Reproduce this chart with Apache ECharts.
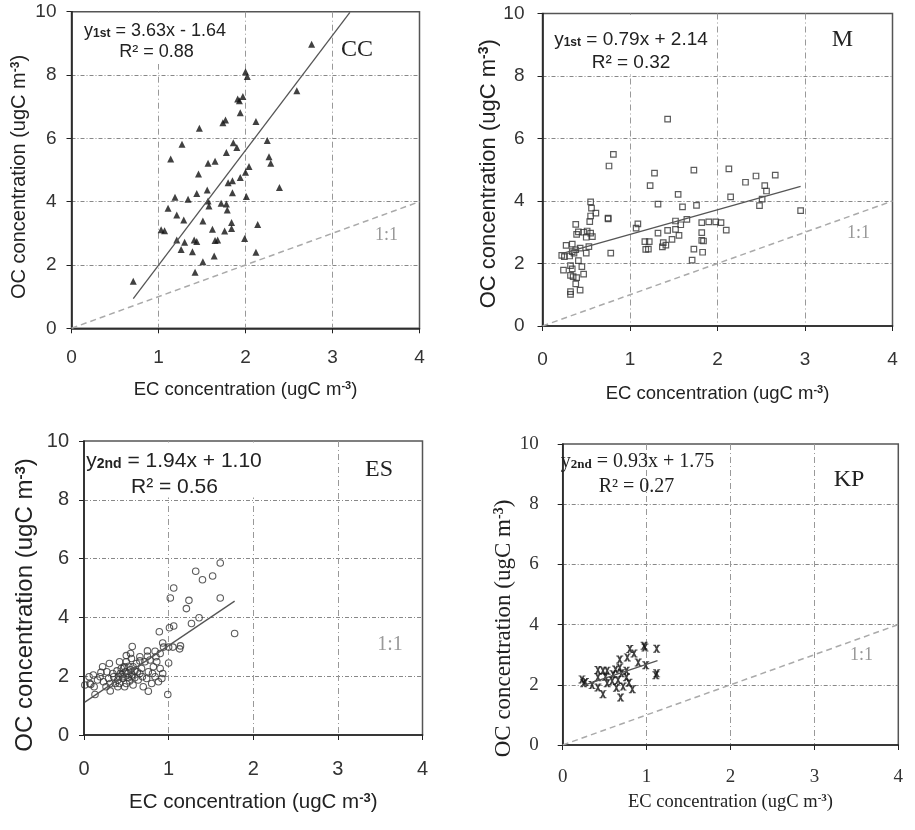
<!DOCTYPE html>
<html><head><meta charset="utf-8">
<script src="https://cdn.jsdelivr.net/npm/echarts@6/dist/echarts.min.js"></script>
<style>html,body{margin:0;padding:0;background:#fff}#c{width:915px;height:830px}</style>
</head><body><div id="c"></div>
<script>
// ---------- data ----------
const xTicks = [0, 1, 2, 3, 4];
const yTicks = [0, 2, 4, 6, 8, 10];
const siteNames = ['CC', 'M', 'ES', 'KP'];
const fitLabels = ['1st', '1st', '2nd', '2nd'];

// CC
const ccEC = [2.76,2.00,2.02,2.59,1.91,1.93,1.97,1.94,1.74,1.77,2.12,1.47,1.27,1.86,1.90,2.25,1.78,1.14,1.57,1.65,2.27,2.29,2.04,2.00,1.46,1.94,1.85,1.80,2.39,1.44,1.56,1.85,1.19,1.34,1.57,2.01,1.58,1.72,1.78,1.11,1.79,1.21,1.29,1.51,1.84,2.14,1.03,1.07,1.62,1.84,1.76,1.21,1.30,1.41,1.44,1.65,1.68,1.99,1.26,1.39,2.12,1.64,1.51,1.42,0.71];
const ccOC = [8.97,8.10,7.95,7.50,7.24,7.19,7.32,6.81,6.49,6.58,6.53,6.32,5.81,5.86,5.71,5.93,5.55,5.35,5.21,5.28,5.42,5.21,5.11,4.93,4.87,4.76,4.66,4.60,4.45,4.26,4.37,4.28,4.14,4.08,4.02,4.16,3.86,3.95,3.93,3.79,3.74,3.58,3.42,3.39,3.34,3.28,3.11,3.08,3.13,3.15,3.07,2.79,2.72,2.79,2.74,2.77,2.79,2.84,2.49,2.42,2.40,2.28,2.10,1.77,1.49];
const ccFit = [3.63, -1.64, 0.88];
const ccFitX = [0.71, 3.2];

// M
const mEC = [1.43,0.81,0.76,1.28,1.73,2.13,2.66,2.44,2.32,1.23,2.54,2.56,1.55,2.15,2.51,2.48,1.32,1.76,1.60,0.55,0.56,0.61,0.55,0.75,0.75,2.95,1.65,0.54,0.38,1.09,1.07,1.52,1.58,1.82,1.90,1.98,2.04,2.10,1.52,1.43,1.32,1.82,0.41,0.47,0.51,0.55,0.57,0.50,0.39,1.56,1.82,1.84,1.48,1.17,1.22,1.38,1.41,1.37,1.18,1.21,1.73,1.83,1.71,0.78,0.27,0.34,0.53,0.43,0.50,0.38,0.34,0.22,0.25,0.31,0.36,0.41,0.32,0.24,0.34,0.45,0.32,0.35,0.39,0.47,0.38,0.43,0.32,0.32];
const mOC = [6.62,5.49,5.12,4.89,4.99,5.03,4.83,4.80,4.60,4.49,4.49,4.32,4.21,4.13,4.06,3.85,3.90,3.86,3.81,3.97,3.77,3.61,3.52,3.45,3.43,3.69,3.41,3.34,3.25,3.27,3.13,3.36,3.24,3.31,3.33,3.33,3.31,3.07,3.09,3.06,2.97,2.99,3.01,3.00,3.04,2.97,2.86,2.84,2.93,2.90,2.74,2.72,2.77,2.70,2.70,2.67,2.59,2.53,2.45,2.46,2.46,2.36,2.11,2.33,2.58,2.62,2.54,2.49,2.33,2.44,2.38,2.26,2.22,2.24,2.33,2.09,1.93,1.79,1.83,1.90,1.62,1.58,1.55,1.66,1.35,1.15,1.10,1.01];
const mFit = [0.79, 2.14, 0.32];
const mFitX = [0.22, 2.95];

// ES
const esEC = [1.61,1.32,1.52,1.40,1.06,1.02,1.61,1.24,1.21,1.36,1.27,1.06,1.01,1.78,0.89,0.93,1.14,1.13,1.05,1.00,0.94,0.57,0.55,0.50,0.66,0.75,0.84,0.90,1.00,0.30,0.20,0.11,0.01,0.08,0.13,0.76,0.99,
  0.19,0.23,0.26,0.31,0.31,0.35,0.39,0.40,0.43,0.44,0.46,0.48,0.50,0.52,0.53,0.56,0.58,0.60,0.62,0.64,0.66,0.68,0.70,0.72,0.74,0.76,0.78,0.80,0.82,0.84,0.86,0.88,0.90,0.92,0.85,0.75,0.42,0.37,0.29,0.16,0.07,0.06,0.12,0.42,0.48,0.58,0.63,0.69,0.81,0.54,0.46,0.40,0.34,0.27,0.22,0.50,0.56,0.66,0.93,0.45,0.49,0.52,0.55,0.47,0.41,0.57,0.60];
const esOC = [5.85,5.57,5.41,5.28,5.00,4.66,4.66,4.58,4.30,3.99,3.79,3.71,3.65,3.45,3.51,3.13,3.03,2.93,2.99,2.99,2.99,3.01,2.77,2.70,2.66,2.86,2.85,2.77,2.45,2.43,2.13,2.04,1.70,1.72,1.38,1.49,1.38,
  1.98,1.81,1.64,1.50,1.75,1.98,2.18,1.64,2.09,2.26,1.92,2.32,1.75,2.09,2.34,1.98,1.70,2.18,2.43,1.87,2.09,2.26,1.64,2.49,1.92,2.15,2.55,1.75,2.32,1.98,2.49,1.81,2.26,1.92,2.66,2.68,2.49,1.75,1.92,1.87,1.75,1.98,1.64,1.75,1.64,2.32,2.15,1.98,2.09,1.84,1.98,1.87,2.09,2.15,2.32,2.49,2.60,2.52,2.09,2.05,2.15,1.95,2.22,2.28,2.00,2.05,1.95];
const esFit = [1.94, 1.10, 0.56];
const esFitX = [0.01, 1.78];

// KP
const kpEC = [0.97,0.98,1.12,0.80,0.85,0.77,0.68,0.90,0.99,1.11,1.12,0.42,0.48,0.53,0.63,0.68,0.70,0.60,0.51,0.42,0.76,0.66,0.79,0.53,0.42,0.64,0.72,0.83,0.48,0.69,0.23,0.25,0.27,0.35,0.59,0.76];
const kpOC = [3.30,3.24,3.20,3.19,3.04,2.91,2.84,2.74,2.65,2.32,2.38,2.49,2.47,2.47,2.51,2.57,2.38,2.35,2.27,2.25,2.25,2.16,2.07,2.05,1.91,1.90,1.94,1.85,1.69,1.58,2.18,2.05,2.09,1.99,2.13,2.47];
const kpFit = [0.93, 1.75, 0.27];
const kpFitX = [0.23, 1.13];

// ---------- layout / style ----------
const grids = [
  {left: 71.5, top: 11.7, width: 348, height: 316.6},
  {left: 542.5, top: 13.5, width: 350, height: 312.5},
  {left: 84, top: 441, width: 338.5, height: 294},
  {left: 562.7, top: 444, width: 335.6, height: 301}
];
const SANS = 'Liberation Sans, Arial, sans-serif';
const SERIF = 'Liberation Serif, Times New Roman, serif';
const styles = [
  {font: SANS, tick: 19, xName: 18.5, yName: 20, yLabM: 15, xLabM: 20, xGap: 52, yGap: 42, yShift: 14},
  {font: SANS, tick: 19, xName: 18.5, yName: 22, yLabM: 18, xLabM: 24, xGap: 58, yGap: 42, yShift: 8},
  {font: SANS, tick: 20, xName: 20.5, yName: 24, yLabM: 15, xLabM: 24, xGap: 57, yGap: 47, yShift: 34},
  {font: SERIF, tick: 19, xName: 18.5, yName: 23, yLabM: 24, xLabM: 23, xGap: 48, yGap: 46, yShift: 68}
];

const pointSets = [
  {x: ccEC, y: ccOC, fit: ccFit, fitX: ccFitX, oneToOne: true},
  {x: mEC, y: mOC, fit: mFit, fitX: mFitX, oneToOne: true},
  {x: esEC, y: esOC, fit: esFit, fitX: esFitX, oneToOne: false},
  {x: kpEC, y: kpOC, fit: kpFit, fitX: kpFitX, oneToOne: true}
];
const symbols = [
  {symbol: 'triangle', symbolSize: 7, itemStyle: {color: '#111'}},
  {symbol: 'rect', symbolSize: 5.5, itemStyle: {color: 'rgba(255,255,255,0)', borderColor: '#333', borderWidth: 1.2}},
  {symbol: 'circle', symbolSize: 6.5, itemStyle: {color: 'rgba(255,255,255,0)', borderColor: '#333', borderWidth: 1.1}},
  {symbol: 'path://M0,0 L3.8,0 L5,2.6 L6.2,0 L10,0 L10,1.2 L8.6,1.2 L6.3,5 L8.6,8.8 L10,8.8 L10,10 L6.2,10 L5,7.4 L3.8,10 L0,10 L0,8.8 L1.4,8.8 L3.7,5 L1.4,1.2 L0,1.2 Z', symbolSize: [7, 8], itemStyle: {color: '#111'}}
];

const xAxes = [], yAxes = [], series = [];
grids.forEach((g, i) => {
  const s = styles[i];
  const richName = {sup: {fontSize: Math.round(s.xName * 0.62), fontWeight: 'bold', verticalAlign: 'top', fontFamily: s.font, color: '#222', padding: [0, 0, 6, 0]}};
  xAxes.push({
    gridIndex: i, type: 'value', min: xTicks[0], max: xTicks[xTicks.length - 1], interval: 1,
    name: 'EC concentration (ugC m{sup|-3})', nameLocation: 'middle', nameGap: s.xGap,
    nameTextStyle: {fontSize: s.xName, fontFamily: s.font, color: '#222', rich: richName},
    axisLine: {show: true, onZero: false, lineStyle: {color: '#222', width: 1.6}},
    axisTick: {show: true, length: 5, lineStyle: {color: '#222'}},
    axisLabel: {fontSize: s.tick, fontFamily: s.font, color: '#333', margin: s.xLabM},
    splitLine: {show: true, showMinLine: false, showMaxLine: false, lineStyle: {color: '#999', type: [6, 3, 1, 3], width: 1}}
  });
  const richY = {sup: {fontSize: Math.round(s.yName * 0.62), fontWeight: 'bold', verticalAlign: 'top', fontFamily: s.font, color: '#222', padding: [0, 0, 6, 0]}};
  yAxes.push({
    gridIndex: i, type: 'value', min: yTicks[0], max: yTicks[yTicks.length - 1], interval: 2,
    name: 'OC concentration (ugC m{sup|-3})', nameLocation: 'middle', nameGap: s.yGap,
    nameTextStyle: {fontSize: s.yName, fontFamily: s.font, color: '#222', rich: richY, padding: [0, s.yShift, 0, 0]},
    axisLine: {show: true, onZero: false, lineStyle: {color: '#222', width: 1.6}},
    axisTick: {show: true, length: 5, lineStyle: {color: '#222'}},
    axisLabel: {fontSize: s.tick, fontFamily: s.font, color: '#333', margin: s.yLabM},
    splitLine: {show: true, showMinLine: false, showMaxLine: false, lineStyle: {color: '#888', type: [4, 2, 1, 2], width: 1}}
  });
  const p = pointSets[i];
  if (p.oneToOne) {
    series.push({
      type: 'line', xAxisIndex: i, yAxisIndex: i, symbol: 'none', silent: true, z: 3,
      data: [[xTicks[0], xTicks[0]], [xTicks[xTicks.length - 1], xTicks[xTicks.length - 1]]],
      lineStyle: {color: '#aaa', width: 1.5, type: [6, 4]}
    });
  }
  series.push(Object.assign({
    type: 'scatter', xAxisIndex: i, yAxisIndex: i, z: 4,
    data: p.x.map((v, k) => [v, p.y[k]])
  }, symbols[i]));
  series.push({
    type: 'line', xAxisIndex: i, yAxisIndex: i, symbol: 'none', silent: true, z: 5,
    data: p.fitX.map(v => [v, p.fit[0] * v + p.fit[1]]),
    lineStyle: {color: '#555', width: 1.3}
  });
});

// ---------- annotations ----------
function eqText(i) {
  const f = pointSets[i].fit;
  const sign = f[1] < 0 ? ' - ' : ' + ';
  return '{n|y}{sub|' + fitLabels[i] + '}{n| = ' + f[0].toFixed(2) + 'x' + sign + Math.abs(f[1]).toFixed(2) + '}';
}
const annot = [
  {eq: [155, 31], r2: [156.5, 52], fs: 18, font: SANS, site: [357, 50], one: [386.5, 235], oneFs: 18, box: [73, 13, 162, 51]},
  {eq: [631, 40], r2: [631, 63], fs: 19, font: SANS, site: [842.5, 40], one: [858.5, 233.5], oneFs: 18, box: [544, 15, 168, 58]},
  {eq: [174, 461], r2: [174.5, 487], fs: 21, font: SANS, site: [379, 470], one: [390, 644.5], oneFs: 20, box: [85.5, 442.5, 179, 55]},
  {eq: [637.5, 462], r2: [636.5, 487], fs: 20, font: SERIF, site: [849, 479.5], one: [861.5, 655], oneFs: 18, box: null}
];
const graphic = [];
annot.forEach((a, i) => {
  if (a.box) graphic.push({type: 'rect', z: 1, shape: {x: a.box[0], y: a.box[1], width: a.box[2], height: a.box[3]}, style: {fill: '#fff'}});
  graphic.push({type: 'text', z: 10, x: a.eq[0], y: a.eq[1], style: {
    text: eqText(i), align: 'center', verticalAlign: 'middle',
    rich: {n: {fontSize: a.fs, fontFamily: a.font, fill: '#222'}, sub: {fontSize: Math.round(a.fs * 0.65), fontWeight: 'bold', fontFamily: a.font, fill: '#222', padding: [6, 0, 0, 0]}}
  }});
  graphic.push({type: 'text', z: 10, x: a.r2[0], y: a.r2[1], style: {
    text: 'R² = ' + pointSets[i].fit[2].toFixed(2), align: 'center', verticalAlign: 'middle',
    fontSize: a.fs, fontFamily: a.font, fill: '#222'
  }});
  graphic.push({type: 'text', z: 10, x: a.site[0], y: a.site[1], style: {
    text: siteNames[i], align: 'center', verticalAlign: 'middle', fontSize: 24, fontFamily: SERIF, fill: '#222'
  }});
  graphic.push({type: 'text', z: 10, x: a.one[0], y: a.one[1], style: {
    text: '1:1', align: 'center', verticalAlign: 'middle', fontSize: a.oneFs, fontFamily: SERIF, fill: '#999'
  }});
});

const chart = echarts.init(document.getElementById('c'), null, {renderer: 'canvas'});
chart.setOption({
  animation: false,
  backgroundColor: '#fff',
  grid: grids.map(g => Object.assign({show: true, borderColor: '#555', borderWidth: 1.5, backgroundColor: '#fff'}, g)),
  xAxis: xAxes,
  yAxis: yAxes,
  series: series,
  graphic: graphic
});
</script></body></html>
